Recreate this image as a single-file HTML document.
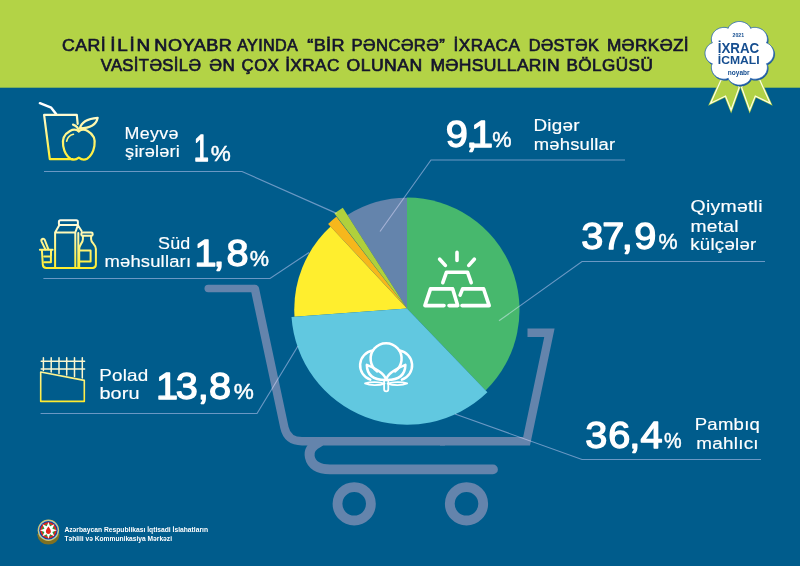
<!DOCTYPE html>
<html lang="az">
<head>
<meta charset="utf-8">
<title>İxrac icmalı – noyabr 2021</title>
<style>
html,body{margin:0;padding:0;background:#005c8c;}
body{width:800px;height:566px;overflow:hidden;font-family:"Liberation Sans",sans-serif;}
svg{display:block;}
text{font-family:"Liberation Sans",sans-serif;}
.hd{font-size:15.7px;fill:#15152c;stroke:#15152c;stroke-width:.65px;}
.lb{font-size:16.3px;fill:#fff;stroke:#fff;stroke-width:.15px;}
.num{font-size:36.4px;fill:#fff;stroke:#fff;stroke-width:1.3px;stroke-linejoin:round;}
.pc{font-size:22.5px;fill:#fff;stroke:#fff;stroke-width:.45px;}
.ln{fill:none;stroke:#6a5e7c;stroke-width:1.15;mix-blend-mode:screen;}
.cart{fill:none;stroke:#6484ac;stroke-width:8.4;stroke-linejoin:round;}
.ic{fill:none;stroke-width:2.2;stroke-linecap:round;stroke-linejoin:round;}
.wi{fill:none;stroke:#fff;stroke-width:3.6;stroke-linecap:round;stroke-linejoin:round;}
.wc{fill:none;stroke:#fff;stroke-width:2.5;stroke-linecap:round;stroke-linejoin:round;}
</style>
</head>
<body>
<svg width="800" height="566" viewBox="0 0 800 566">
<defs>
<linearGradient id="g1" gradientUnits="userSpaceOnUse" x1="0" y1="112" x2="0" y2="160"><stop offset="0" stop-color="#fffcdc"/><stop offset="1" stop-color="#ffee2e"/></linearGradient>
<linearGradient id="g2" gradientUnits="userSpaceOnUse" x1="0" y1="220" x2="0" y2="268"><stop offset="0" stop-color="#fffde8"/><stop offset="1" stop-color="#ffee2e"/></linearGradient>
<linearGradient id="g3" gradientUnits="userSpaceOnUse" x1="0" y1="370" x2="0" y2="402"><stop offset="0" stop-color="#fff6a0"/><stop offset="1" stop-color="#ffea2e"/></linearGradient>
</defs>

<!-- background -->
<rect x="0" y="0" width="800" height="566" fill="#005c8c"/>
<rect x="0" y="0" width="800" height="87.7" fill="#b3d346"/>

<!-- HEADER TEXT -->
<g id="header">
<text class="hd" transform="scale(1.1247,1)" x="55.06" y="51.4" textLength="38.93" lengthAdjust="spacing">CARİ</text>
<text class="hd" transform="scale(1.2,1)" x="91.83" y="51.4" textLength="33.19" lengthAdjust="spacing">İLİN</text>
<text class="hd" transform="scale(1.1542,1)" x="133.75" y="51.4" textLength="67.07" lengthAdjust="spacing">NOYABR</text>
<text class="hd" transform="scale(1.0307,1)" x="230.16" y="51.4" textLength="58.75" lengthAdjust="spacing">AYINDA</text>
<text class="hd" transform="scale(1.1498,1)" x="267.27" y="51.4" textLength="32.29" lengthAdjust="spacing">“BİR</text>
<text class="hd" transform="scale(1.0624,1)" x="330.96" y="51.4" textLength="87.66" lengthAdjust="spacing">PƏNCƏRƏ”</text>
<text class="hd" transform="scale(1.0933,1)" x="414.87" y="51.4" textLength="60.67" lengthAdjust="spacing">İXRACA</text>
<text class="hd" transform="scale(1.0393,1)" x="508.78" y="51.4" textLength="67.36" lengthAdjust="spacing">DƏSTƏK</text>
<text class="hd" transform="scale(1.0981,1)" x="552.69" y="51.4" textLength="74.44" lengthAdjust="spacing">MƏRKƏZİ</text>
<text class="hd" transform="scale(1.0634,1)" x="94.63" y="71.4" textLength="94.36" lengthAdjust="spacing">VASİTƏSİLƏ</text>
<text class="hd" transform="scale(1.0827,1)" x="193.31" y="71.4" textLength="23.50" lengthAdjust="spacing">ƏN</text>
<text class="hd" transform="scale(1.0642,1)" x="226.89" y="71.4" textLength="35.19" lengthAdjust="spacing">ÇOX</text>
<text class="hd" transform="scale(1.0967,1)" x="260.01" y="71.4" textLength="49.39" lengthAdjust="spacing">İXRAC</text>
<text class="hd" transform="scale(1.1225,1)" x="308.69" y="71.4" textLength="67.42" lengthAdjust="spacing">OLUNAN</text>
<text class="hd" transform="scale(1.116,1)" x="385.71" y="71.4" textLength="115.80" lengthAdjust="spacing">MƏHSULLARIN</text>
<text class="hd" transform="scale(1.0884,1)" x="520.42" y="71.4" textLength="79.39" lengthAdjust="spacing">BÖLGÜSÜ</text>
</g>

<!-- BADGE -->
<g id="badge">
<g id="ribbons" stroke-linejoin="miter">
<polygon points="721,80 710.6,103.3 725.5,96 731.1,110 739.2,87.5 735,78" fill="#b2d246" stroke="#b2d246" stroke-width="2.4"/>
<polygon points="721,80 710.6,103.3 725.5,96 731.1,110 739.2,87.5 735,78" fill="none" stroke="#fdfde2" stroke-width="1.25"/>
<polygon points="759.8,80 770.2,103.3 755.3,96 749.7,110 741.6,87.5 746,78" fill="#b2d246" stroke="#b2d246" stroke-width="2.4"/>
<polygon points="759.8,80 770.2,103.3 755.3,96 749.7,110 741.6,87.5 746,78" fill="none" stroke="#fdfde2" stroke-width="1.25"/>
</g>
<path d="M739.4 21.5 L740.3 21.5 L741.2 21.6 L742.1 21.8 L743.0 22.0 L743.8 22.3 L744.7 22.6 L745.5 23.0 L746.3 23.4 L747.0 23.9 L747.8 24.4 L748.5 25.0 L749.1 25.7 L749.7 26.4 L750.2 27.2 L750.6 28.3 L751.7 27.8 L752.7 27.5 L753.7 27.4 L754.6 27.4 L755.6 27.4 L756.5 27.5 L757.4 27.7 L758.3 27.9 L759.2 28.1 L760.0 28.5 L760.8 28.8 L761.6 29.3 L762.4 29.7 L763.1 30.3 L763.7 30.8 L764.3 31.4 L764.9 32.1 L765.4 32.8 L765.9 33.5 L766.3 34.2 L766.6 35.0 L766.9 35.8 L767.1 36.7 L767.3 37.5 L767.4 38.4 L767.4 39.2 L767.4 40.1 L767.3 41.0 L767.0 41.9 L766.5 42.9 L767.7 43.3 L768.5 43.8 L769.3 44.3 L770.0 44.9 L770.6 45.6 L771.2 46.2 L771.8 46.9 L772.2 47.7 L772.6 48.4 L773.0 49.2 L773.3 50.0 L773.5 50.8 L773.7 51.6 L773.8 52.5 L773.8 53.3 L773.8 54.1 L773.7 55.0 L773.5 55.8 L773.3 56.6 L773.0 57.4 L772.6 58.2 L772.2 58.9 L771.8 59.7 L771.2 60.4 L770.6 61.0 L770.0 61.7 L769.3 62.3 L768.5 62.8 L767.7 63.3 L766.5 63.7 L767.0 64.7 L767.3 65.6 L767.4 66.5 L767.4 67.4 L767.4 68.2 L767.3 69.1 L767.1 69.9 L766.9 70.8 L766.6 71.6 L766.3 72.4 L765.9 73.1 L765.4 73.8 L764.9 74.5 L764.3 75.2 L763.7 75.8 L763.1 76.3 L762.4 76.9 L761.6 77.3 L760.8 77.8 L760.0 78.1 L759.2 78.5 L758.3 78.7 L757.4 78.9 L756.5 79.1 L755.6 79.2 L754.6 79.2 L753.7 79.2 L752.7 79.1 L751.7 78.8 L750.6 78.3 L750.2 79.4 L749.7 80.2 L749.1 80.9 L748.5 81.6 L747.8 82.2 L747.0 82.7 L746.3 83.2 L745.5 83.6 L744.7 84.0 L743.8 84.3 L743.0 84.6 L742.1 84.8 L741.2 85.0 L740.3 85.1 L739.4 85.1 L738.5 85.1 L737.6 85.0 L736.7 84.8 L735.8 84.6 L735.0 84.3 L734.1 84.0 L733.3 83.6 L732.5 83.2 L731.8 82.7 L731.0 82.2 L730.3 81.6 L729.7 80.9 L729.1 80.2 L728.6 79.4 L728.2 78.3 L727.1 78.8 L726.1 79.1 L725.1 79.2 L724.2 79.2 L723.2 79.2 L722.3 79.1 L721.4 78.9 L720.5 78.7 L719.6 78.5 L718.8 78.1 L718.0 77.8 L717.2 77.3 L716.4 76.9 L715.7 76.3 L715.1 75.8 L714.5 75.2 L713.9 74.5 L713.4 73.8 L712.9 73.1 L712.5 72.4 L712.2 71.6 L711.9 70.8 L711.7 69.9 L711.5 69.1 L711.4 68.2 L711.4 67.4 L711.4 66.5 L711.5 65.6 L711.8 64.7 L712.3 63.7 L711.1 63.3 L710.3 62.8 L709.5 62.3 L708.8 61.7 L708.2 61.0 L707.6 60.4 L707.0 59.7 L706.6 58.9 L706.2 58.2 L705.8 57.4 L705.5 56.6 L705.3 55.8 L705.1 55.0 L705.0 54.1 L705.0 53.3 L705.0 52.5 L705.1 51.6 L705.3 50.8 L705.5 50.0 L705.8 49.2 L706.2 48.4 L706.6 47.7 L707.0 46.9 L707.6 46.2 L708.2 45.6 L708.8 44.9 L709.5 44.3 L710.3 43.8 L711.1 43.3 L712.3 42.9 L711.8 41.9 L711.5 41.0 L711.4 40.1 L711.4 39.2 L711.4 38.4 L711.5 37.5 L711.7 36.7 L711.9 35.8 L712.2 35.0 L712.5 34.2 L712.9 33.5 L713.4 32.8 L713.9 32.1 L714.5 31.4 L715.1 30.8 L715.7 30.3 L716.4 29.7 L717.2 29.3 L718.0 28.8 L718.8 28.5 L719.6 28.1 L720.5 27.9 L721.4 27.7 L722.3 27.5 L723.2 27.4 L724.2 27.4 L725.1 27.4 L726.1 27.5 L727.1 27.8 L728.2 28.3 L728.6 27.2 L729.1 26.4 L729.7 25.7 L730.3 25.0 L731.0 24.4 L731.8 23.9 L732.5 23.4 L733.3 23.0 L734.1 22.6 L735.0 22.3 L735.8 22.0 L736.7 21.8 L737.6 21.6 L738.5 21.5Z" fill="#17559e" stroke="#17559e" stroke-width="0.5" stroke-linejoin="round" transform="translate(0.8,1.1)"/>
<path d="M739.4 21.5 L740.3 21.5 L741.2 21.6 L742.1 21.8 L743.0 22.0 L743.8 22.3 L744.7 22.6 L745.5 23.0 L746.3 23.4 L747.0 23.9 L747.8 24.4 L748.5 25.0 L749.1 25.7 L749.7 26.4 L750.2 27.2 L750.6 28.3 L751.7 27.8 L752.7 27.5 L753.7 27.4 L754.6 27.4 L755.6 27.4 L756.5 27.5 L757.4 27.7 L758.3 27.9 L759.2 28.1 L760.0 28.5 L760.8 28.8 L761.6 29.3 L762.4 29.7 L763.1 30.3 L763.7 30.8 L764.3 31.4 L764.9 32.1 L765.4 32.8 L765.9 33.5 L766.3 34.2 L766.6 35.0 L766.9 35.8 L767.1 36.7 L767.3 37.5 L767.4 38.4 L767.4 39.2 L767.4 40.1 L767.3 41.0 L767.0 41.9 L766.5 42.9 L767.7 43.3 L768.5 43.8 L769.3 44.3 L770.0 44.9 L770.6 45.6 L771.2 46.2 L771.8 46.9 L772.2 47.7 L772.6 48.4 L773.0 49.2 L773.3 50.0 L773.5 50.8 L773.7 51.6 L773.8 52.5 L773.8 53.3 L773.8 54.1 L773.7 55.0 L773.5 55.8 L773.3 56.6 L773.0 57.4 L772.6 58.2 L772.2 58.9 L771.8 59.7 L771.2 60.4 L770.6 61.0 L770.0 61.7 L769.3 62.3 L768.5 62.8 L767.7 63.3 L766.5 63.7 L767.0 64.7 L767.3 65.6 L767.4 66.5 L767.4 67.4 L767.4 68.2 L767.3 69.1 L767.1 69.9 L766.9 70.8 L766.6 71.6 L766.3 72.4 L765.9 73.1 L765.4 73.8 L764.9 74.5 L764.3 75.2 L763.7 75.8 L763.1 76.3 L762.4 76.9 L761.6 77.3 L760.8 77.8 L760.0 78.1 L759.2 78.5 L758.3 78.7 L757.4 78.9 L756.5 79.1 L755.6 79.2 L754.6 79.2 L753.7 79.2 L752.7 79.1 L751.7 78.8 L750.6 78.3 L750.2 79.4 L749.7 80.2 L749.1 80.9 L748.5 81.6 L747.8 82.2 L747.0 82.7 L746.3 83.2 L745.5 83.6 L744.7 84.0 L743.8 84.3 L743.0 84.6 L742.1 84.8 L741.2 85.0 L740.3 85.1 L739.4 85.1 L738.5 85.1 L737.6 85.0 L736.7 84.8 L735.8 84.6 L735.0 84.3 L734.1 84.0 L733.3 83.6 L732.5 83.2 L731.8 82.7 L731.0 82.2 L730.3 81.6 L729.7 80.9 L729.1 80.2 L728.6 79.4 L728.2 78.3 L727.1 78.8 L726.1 79.1 L725.1 79.2 L724.2 79.2 L723.2 79.2 L722.3 79.1 L721.4 78.9 L720.5 78.7 L719.6 78.5 L718.8 78.1 L718.0 77.8 L717.2 77.3 L716.4 76.9 L715.7 76.3 L715.1 75.8 L714.5 75.2 L713.9 74.5 L713.4 73.8 L712.9 73.1 L712.5 72.4 L712.2 71.6 L711.9 70.8 L711.7 69.9 L711.5 69.1 L711.4 68.2 L711.4 67.4 L711.4 66.5 L711.5 65.6 L711.8 64.7 L712.3 63.7 L711.1 63.3 L710.3 62.8 L709.5 62.3 L708.8 61.7 L708.2 61.0 L707.6 60.4 L707.0 59.7 L706.6 58.9 L706.2 58.2 L705.8 57.4 L705.5 56.6 L705.3 55.8 L705.1 55.0 L705.0 54.1 L705.0 53.3 L705.0 52.5 L705.1 51.6 L705.3 50.8 L705.5 50.0 L705.8 49.2 L706.2 48.4 L706.6 47.7 L707.0 46.9 L707.6 46.2 L708.2 45.6 L708.8 44.9 L709.5 44.3 L710.3 43.8 L711.1 43.3 L712.3 42.9 L711.8 41.9 L711.5 41.0 L711.4 40.1 L711.4 39.2 L711.4 38.4 L711.5 37.5 L711.7 36.7 L711.9 35.8 L712.2 35.0 L712.5 34.2 L712.9 33.5 L713.4 32.8 L713.9 32.1 L714.5 31.4 L715.1 30.8 L715.7 30.3 L716.4 29.7 L717.2 29.3 L718.0 28.8 L718.8 28.5 L719.6 28.1 L720.5 27.9 L721.4 27.7 L722.3 27.5 L723.2 27.4 L724.2 27.4 L725.1 27.4 L726.1 27.5 L727.1 27.8 L728.2 28.3 L728.6 27.2 L729.1 26.4 L729.7 25.7 L730.3 25.0 L731.0 24.4 L731.8 23.9 L732.5 23.4 L733.3 23.0 L734.1 22.6 L735.0 22.3 L735.8 22.0 L736.7 21.8 L737.6 21.6 L738.5 21.5Z" fill="#ffffff" stroke="#2d69b0" stroke-width="0.9" stroke-linejoin="round"/>
<g fill="#164e90" font-weight="bold" style="font-weight:bold">
<text x="732.58" y="36.9" font-size="6" textLength="11.54" lengthAdjust="spacingAndGlyphs">2021</text>
<text x="717.74" y="53.4" font-size="14" textLength="41.5" lengthAdjust="spacingAndGlyphs">İXRAC</text>
<text x="717.83" y="64.2" font-size="11.6" textLength="41.8" lengthAdjust="spacingAndGlyphs">İCMALI</text>
<text x="727.87" y="75.2" font-size="6.8" textLength="21.77" lengthAdjust="spacingAndGlyphs">noyabr</text>
</g>
</g>

<!-- CART -->
<g id="cart">
<path class="cart" stroke-linecap="round" style="stroke-width:7.4" d="M208.2 288.5 L254 288.5"/>
<path class="cart" d="M254.9 288.9 L284.4 427.5 Q287.4 441.2 302 441.2 L445 441.2"/>
<circle cx="254.9" cy="288.9" r="4.2" fill="#6484ac"/>
<path class="cart" stroke-linejoin="miter" d="M440 441.2 L526.6 441.2 L549.4 332.8 L527.5 332.8" style="stroke-linejoin:miter"/>
<path class="cart" stroke-linecap="round" stroke-width="9.8" style="stroke-width:9.8" d="M319 442.4 C311.5 446 308.6 451 309.8 457 C311.4 464.6 318 469.4 330 469.4 L493 469.4"/>
<circle cx="354.2" cy="503.8" r="16.7" fill="none" stroke="#6484ac" stroke-width="9.8"/>
<circle cx="466.5" cy="503.8" r="16.7" fill="none" stroke="#6484ac" stroke-width="9.8"/>
</g>

<!-- PIE -->
<g id="pie">
<path d="M407 308.5 L347.4 215.0 A111.7 111.7 0 0 1 407.0 197.8 Z" fill="#6484ac"/>
<path d="M407 308.5 L407.0 197.5 A112.5 112.5 0 0 1 485.6 390.5 Z" fill="#47b86d"/>
<path d="M407 308.5 L294.5 316.8 A112.7 112.7 0 0 1 330.6 226.6 Z" fill="#ffee2e"/>
<path d="M407 308.5 L487.4 392.3 A115.8 115.8 0 0 1 291.5 317.0 Z" fill="#61c8e0"/>
<path d="M407 308.5 L328.1 223.9 A115.7 115.7 0 0 1 336.4 216.8 Z" fill="#f6b71c"/>
<path d="M407 308.5 L334.4 213.6 A119.5 119.5 0 0 1 342.8 207.7 Z" fill="#b0d03c"/>
</g>

<!-- LEADER LINES -->
<g id="lines">
<path class="ln" d="M44 171.5 L242 171.5 L336.6 213.4"/>
<path class="ln" d="M43.4 278.5 L270 278.5 L309 252.5"/>
<path class="ln" d="M40.6 413.5 L257 413.5 L298 346"/>
<path class="ln" d="M625 160 L431 160 L380 231.5"/>
<path class="ln" d="M765 261.5 L582 261.5 L499 320.8"/>
<path class="ln" d="M761 459.5 L582 459.5 L455 414"/>
</g>

<!-- ICONS -->
<g id="icons">
<!-- juice + apple -->
<g class="ic" stroke="url(#g1)">
<path d="M39.9 103.2 L51.2 107.7 L56.1 114.1" stroke="#ffffff" style="stroke-width:2.5"/>
<path d="M72.5 159.2 L49.8 159.2 L44.1 114.9 L76.8 114.9 L77.7 123.8"/>
<path d="M78.8 131.4 C76 129.2 72.5 129.6 70 131 C64.5 134 62 139.5 63.2 146 C64.2 151.5 67 156.5 70.5 158.7 C73.5 160.3 76.5 159.4 78.8 157.6 C81.1 159.4 84.1 160.3 87.1 158.7 C90.6 156.5 93.4 151.5 94.4 146 C95.6 139.5 93.1 134 87.6 131 C85.1 129.6 81.6 129.2 78.8 131.4 Z"/>
<path d="M78.8 131.4 C78.6 128.6 77.4 126 73 124.6"/>
<path d="M79.9 128.4 C81 123 85.5 118.8 97.7 117.8 C96.5 123.5 91.5 128.3 79.9 128.4 Z"/>
<path d="M66.7 141.1 C67.4 137.4 69.8 135.2 73.4 134.3" stroke-width="1.7"/>
</g>
<!-- milk products -->
<g class="ic" stroke="url(#g2)" stroke-width="2" style="stroke-width:2">
<rect x="58.9" y="220.3" width="19" height="4.8" rx="1.6"/>
<path d="M59.4 225.1 L55.1 232.5 L55.1 268 M55.1 232.5 L75.3 232.5 M77.9 225.1 L75.3 232.5 L75.3 268 M77.9 225.3 L81.6 231 M78.3 233 L78.3 268"/>
<rect x="81.3" y="232.6" width="11.4" height="3.2" rx="1.4"/>
<path d="M82.9 235.8 L82.9 239.2 C82.9 243 79.2 244.5 79.2 249 L79.2 268 M91.1 235.8 L91.1 239.2 C91.1 243 95.9 244.5 95.9 249 L95.9 264.6 C95.9 266.8 94.6 268 92.4 268"/>
<path d="M79.2 250.6 L90.6 250.6 L90.6 261.6 L79.2 261.6"/>
<path d="M39.9 249.8 L52.6 249.8"/>
<path d="M41.9 250.2 L42.8 264.6 C43 266.8 44.2 268 46.4 268 L92.6 268"/>
<path d="M44.2 256.4 L50.9 256.4 L50.9 262.3 L44.2 262.3 M51 250 L51 256"/>
<path d="M45.4 249.4 L41.6 241.6 C40.6 239.2 43.6 237.6 44.8 240 L48.3 249.2"/>
</g>
<!-- steel pipe -->
<g class="ic" stroke="#fbf7cf" stroke-width="1.5" style="stroke-width:1.5" stroke-linecap="butt">
<path d="M41.2 361.3 L84.6 361.3 M41.2 369 L84.6 369"/>
<path d="M43.4 357.8 L43.4 370.6 M51.2 357.8 L51.2 372.1 M59 357.8 L59 373.6 M66.7 357.8 L66.7 375.1 M74.5 357.8 L74.5 376.6 M82.3 357.8 L82.3 378.1"/>
</g>
<path class="ic" stroke="url(#g3)" stroke-width="1.6" style="stroke-width:1.6" d="M40.7 372 L84.3 380.4 L84.3 401.4 L40.7 401.4 Z"/>
<!-- gold bars -->
<g class="wi">
<path d="M457 252.4 L457 260.5 M439.7 259.2 L445.3 265.4 M474.3 259.2 L468.8 265.4"/>
<path d="M442.8 282.7 L446.5 272.2 L467.5 272.2 L471.2 282.7"/>
<path d="M444 305.6 L424.9 305.6 L430.5 288.9 L452.7 288.9 L457.7 305.6 L449 305.6"/>
<path d="M460.1 295.1 L462.6 288.9 L483.6 288.9 L489.2 305.6 L462 305.6"/>
</g>
<!-- cotton -->
<g class="wc" id="cotton">
<path d="M377.2 371.4 A15.5 15.5 0 1 1 395 371.4"/>
<path d="M372.6 350.6 A15 15 0 0 0 370.3 379.6"/><path d="M 399.6 350.6 A 15 15 0 0 1 401.9 379.6"/>
<path d="M385.9 380 C385.3 374 378 369.5 366.8 364.9 C367 373 371.5 380.3 385.9 380 Z"/><path d="M 386.3 380 C 386.9 374 394.2 369.5 405.4 364.9 C 405.2 373 400.7 380.3 386.3 380 Z"/>
<path d="M384.6 383.6 C379 381.6 370 381.8 365 383.4 C370 385.6 379 385.6 384.6 383.6 Z" stroke-width="1.7"/><path d="M 387.6 383.6 C 393.2 381.6 402.2 381.8 407.2 383.4 C 402.2 385.6 393.2 385.6 387.6 383.6 Z" stroke-width="1.7"/>
<path d="M384.1 381.5 L384.1 389.3 A2.1 2.1 0 0 0 388.3 389.3 L388.3 381.5" stroke-width="1.8"/>
</g>
</g>

<!-- LABELS -->
<g id="labels">
<text class="lb" transform="scale(1.0964,1)" x="113.58" y="138.75" textLength="49.25" lengthAdjust="spacing">Meyvə</text>
<text class="lb" transform="scale(1.1192,1)" x="111.80" y="157.5" textLength="48.91" lengthAdjust="spacing">şirələri</text>
<text class="num" transform="scale(0.75,1)" x="258.47" y="160.8">1</text>
<text class="pc" transform="scale(1.0021,1)" x="210.20" y="160.8">%</text>
<text class="lb" transform="scale(1.0992,1)" x="143.70" y="248.75" textLength="29.41" lengthAdjust="spacing">Süd</text>
<text class="lb" transform="scale(1.1308,1)" x="92.37" y="267.5" textLength="76.57" lengthAdjust="spacing">məhsulları</text>
<text class="num" transform="scale(1.09,1)" x="178.41 195.94 207.73" y="266.2">1,8</text>
<text class="pc" transform="scale(0.9621,1)" x="259.56" y="266.2">%</text>
<text class="lb" transform="scale(1.1579,1)" x="85.65" y="381" textLength="42.39" lengthAdjust="spacing">Polad</text>
<text class="lb" transform="scale(1.2195,1)" x="81.52" y="399.2" textLength="33.02" lengthAdjust="spacing">boru</text>
<text class="num" transform="scale(1.09,1)" x="143.09 161.36 181.4 191.81" y="398.85">13,8</text>
<text class="pc" transform="scale(1.0048,1)" x="232.54" y="398.85">%</text>
<text class="num" transform="scale(1.09,1)" x="408.88 427.83 432.08" y="147">9,1</text>
<text class="pc" transform="scale(0.9671,1)" x="509.09" y="147">%</text>
<text class="lb" transform="scale(1.1581,1)" x="460.59" y="131.4" textLength="39.81" lengthAdjust="spacing">Digər</text>
<text class="lb" transform="scale(1.1315,1)" x="471.70" y="150.1" textLength="71.97" lengthAdjust="spacing">məhsullar</text>
<text class="num" transform="scale(1.09,1)" x="533.15 552.45 570.49 581.81" y="249.4">37,9</text>
<text class="pc" transform="scale(0.9566,1)" x="688.40" y="249.4">%</text>
<text class="lb" transform="scale(1.1931,1)" x="578.81" y="212.5" textLength="60.27" lengthAdjust="spacing">Qiymətli</text>
<text class="lb" transform="scale(1.1826,1)" x="583.88" y="231.55" textLength="40.60" lengthAdjust="spacing">metal</text>
<text class="lb" transform="scale(1.1444,1)" x="603.16" y="250.1" textLength="57.73" lengthAdjust="spacing">külçələr</text>
<text class="num" transform="scale(1.09,1)" x="536.92 557.99 577.41 587.52" y="448.2">36,4</text>
<text class="pc" transform="scale(0.8819,1)" x="753.00" y="448.2">%</text>
<text class="lb" transform="scale(1.1358,1)" x="611.70" y="430.5" textLength="57.30" lengthAdjust="spacing">Pambıq</text>
<text class="lb" transform="scale(1.158,1)" x="601.36" y="449.5" textLength="53.68" lengthAdjust="spacing">mahlıcı</text>
</g>

<!-- LOGO -->
<g id="logo">
<path d="M37.8 534.5 C38.6 540.4 43 543.8 48.4 543.8 C53.8 543.8 58.2 540.4 59 534.5 C57 539 53 541 48.4 541 C43.8 541 39.8 539 37.8 534.5 Z" fill="#7f7122" stroke="#7f7122" stroke-width="1.4" stroke-linejoin="round"/>
<circle cx="48.4" cy="530.3" r="10.7" fill="#d8c46c"/>
<circle cx="48.4" cy="530.3" r="9.8" fill="#86d3ee"/>
<circle cx="48.4" cy="530.3" r="9.2" fill="#1b3f93"/>
<circle cx="48.4" cy="530.3" r="8.1" fill="#e3261c"/>
<circle cx="48.4" cy="530.3" r="6.4" fill="#22a03c"/>
<polygon points="48.40,521.90 50.05,526.33 54.34,524.36 52.37,528.65 56.80,530.30 52.37,531.95 54.34,536.24 50.05,534.27 48.40,538.70 46.75,534.27 42.46,536.24 44.43,531.95 40.00,530.30 44.43,528.65 42.46,524.36 46.75,526.33" fill="#ffffff"/>
<path d="M48.4 526.6 C49.6 528.4 50.9 529.9 50.9 531.5 C50.9 533 49.8 534 48.4 534 C47 534 45.9 533 45.9 531.5 C45.9 529.9 47.2 528.4 48.4 526.6 Z" fill="#e3261c"/>
<g fill="#ffffff" font-weight="bold" font-size="8" style="font-weight:bold;font-size:8px">
<text x="64.4" y="531.6" textLength="143.6" lengthAdjust="spacingAndGlyphs">Azərbaycan Respublikası İqtisadi İslahatların</text>
<text x="64.4" y="540.7" textLength="107.6" lengthAdjust="spacingAndGlyphs">Təhlili və Kommunikasiya Mərkəzi</text>
</g>
</g>
</svg>
</body>
</html>
